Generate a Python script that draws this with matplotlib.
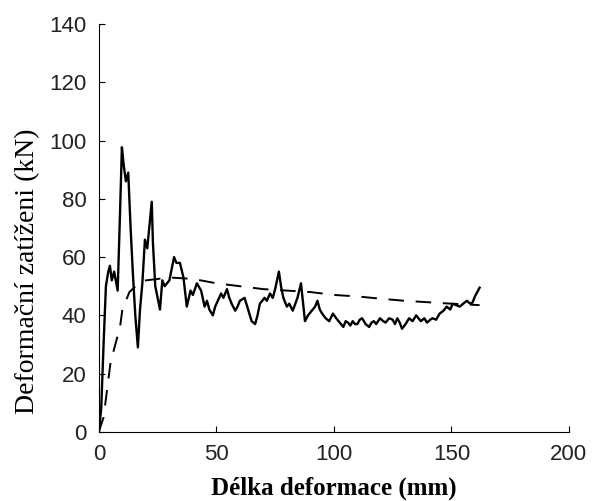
import matplotlib
matplotlib.use("Agg")
import matplotlib.pyplot as plt

# namerena krivka (solid)
defl = [0, 1, 2, 3, 4, 4.7, 5.5, 6.5, 8, 9, 9.8, 10.5, 11.5, 12.5, 13.5, 14.5, 15.5, 16.6,
        17.5, 18.5, 19.6, 20.6, 22.5, 23, 24, 26, 27, 28, 30, 32, 33, 34.5, 36, 37.4,
        39, 40, 41.7, 43.5, 45, 46, 47, 48.5, 49.5, 50.6, 52, 53, 54.5, 55.5, 56.5,
        58, 59, 60, 62, 63.5, 65, 66.5, 67.5, 68.5, 70.5, 71.5, 72.8, 74, 75, 76.6,
        77.5, 78.5, 80, 81, 82.5, 84.5, 86, 87.7, 89, 90.6, 92, 93, 94, 95, 96.5,
        98, 99.6, 101, 102, 103, 104, 105, 106, 107, 108, 109, 110, 111, 112, 113.5,
        115, 116, 117, 118, 119.6, 121, 122, 123.5, 125, 126, 127, 128, 129, 130.5,
        132, 133.5, 135, 136, 137, 138.5, 139.6, 141, 142, 143.5, 145, 146.5, 148,
        149.5, 150.6, 152, 153.6, 155, 156.6, 158, 159, 160, 161, 162]
force = [0, 8, 30, 50, 55, 57, 52, 55, 48.5, 75, 97.7, 92, 86, 89, 70, 54, 40, 29,
         42, 51, 66, 63, 79, 65, 50, 42, 52, 50, 52, 60, 58, 58, 53, 43,
         48.5, 47, 51, 48.5, 43, 45, 42, 40, 43, 45, 47.5, 46, 49, 46, 44,
         41.6, 43, 45, 46, 42, 38, 37, 40, 44, 46, 45, 47.5, 46, 49, 55,
         50, 46, 43, 44, 41.6, 46, 51, 38, 40, 41.6, 43, 45, 42, 40.6, 39,
         38, 40.6, 39, 38, 37, 36, 38, 37.5, 36.5, 38, 37, 37, 38.5, 39, 37,
         36, 37.5, 38, 37, 39, 38, 37.5, 39, 38.5, 37, 39, 37.5, 35.4, 37,
         39, 38, 40, 39, 38, 39, 37.5, 38.5, 39, 38.5, 40.6, 41.5, 43,
         42, 44, 43.5, 43, 44, 45, 44, 44.4, 46.5, 48, 49.5]

# prumerna sila (dashed)
defl_avg = [0, 2, 5, 9, 10, 13, 17, 20, 30, 40, 50, 60, 70, 80, 90, 100, 110, 120,
            130, 140, 150, 162]
force_avg = [0, 5, 24, 36, 42, 48, 51, 52, 53, 52.5, 51, 50, 49, 48.5, 48, 47, 46.5,
             45.7, 45, 44.5, 44, 43.5]

fig = plt.figure(figsize=(5.92, 5.01), dpi=100)
ax = fig.add_axes([0.167, 0.138, 0.794, 0.814])

ax.plot(defl, force, color='black', linewidth=1.7)
ax.plot(defl_avg, force_avg, color='black', linewidth=1.4, linestyle=(0, (8, 6)))

ax.set_xlim(0, 200)
ax.set_ylim(0, 140)
ax.set_xticks([0, 50, 100, 150, 200])
ax.set_yticks(range(0, 141, 20))
ax.spines['top'].set_visible(False)
ax.spines['right'].set_visible(False)
ax.tick_params(direction='in', length=4, labelsize=16, pad=9)
for lab in ax.get_xticklabels() + ax.get_yticklabels():
    lab.set_family('Liberation Sans')
    lab.set_color('#222222')

ax.set_xlabel('Délka deformace (mm)', family='Liberation Serif', fontsize=18,
              fontweight='bold', labelpad=8)
ax.set_ylabel('Deformační zatíženi (kN)', family='Liberation Serif', fontsize=20,
              labelpad=10)
ax.yaxis.set_label_coords(-0.125, 0.395)

fig.savefig('out.png', dpi=100)
